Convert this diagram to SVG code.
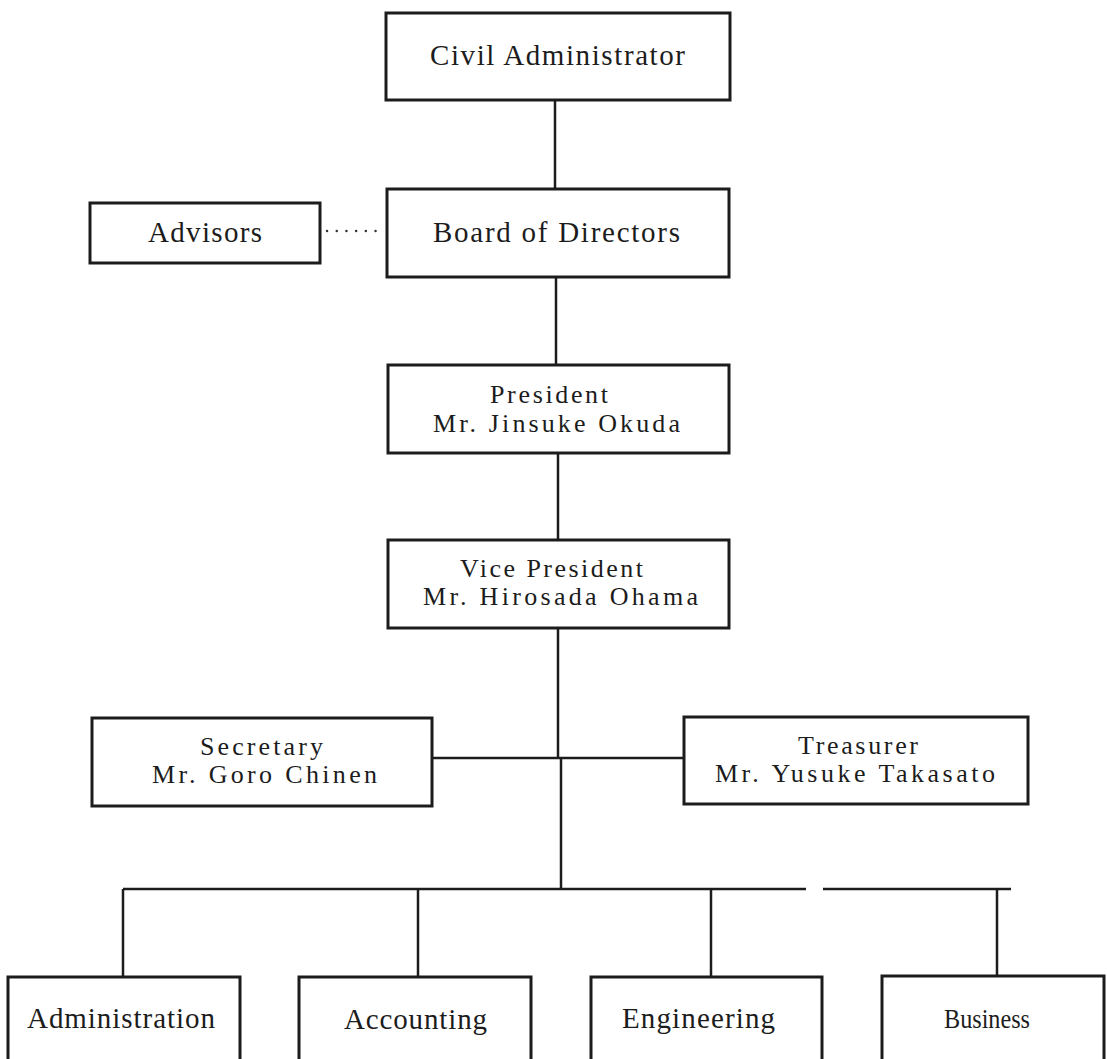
<svg xmlns="http://www.w3.org/2000/svg" width="1107" height="1059" viewBox="0 0 1107 1059">
<style>
.box{fill:#fff;stroke:#1c1c1c;stroke-width:3}
.ln{fill:none;stroke:#1c1c1c;stroke-width:2.5}
.dot{fill:none;stroke:#333;stroke-width:2.4;stroke-linecap:round;stroke-dasharray:0.1 9.6}
text{font-family:"Liberation Serif","Times New Roman",serif;fill:#1c1c1c;text-anchor:start}
.t1{font-size:29px}
.t2{font-size:26px}
</style>
<rect x="0" y="0" width="1107" height="1059" fill="#fff"/>
<g id="connectors">
<line class="ln" x1="555" y1="100" x2="555" y2="189"/>
<line class="ln" x1="556" y1="277" x2="556" y2="365"/>
<line class="ln" x1="558" y1="453" x2="558" y2="540"/>
<line class="ln" x1="558" y1="628" x2="558" y2="758"/>
<line class="ln" x1="432" y1="758" x2="684" y2="758"/>
<line class="ln" x1="561" y1="758" x2="561" y2="889"/>
<line class="ln" x1="123" y1="889" x2="806" y2="889"/>
<line class="ln" x1="823" y1="889" x2="1011" y2="889"/>
<line class="ln" x1="123" y1="889" x2="123" y2="977"/>
<line class="ln" x1="418" y1="889" x2="418" y2="977"/>
<line class="ln" x1="711" y1="889" x2="711" y2="977"/>
<line class="ln" x1="997" y1="889" x2="997" y2="977"/>
<line class="dot" x1="327" y1="231" x2="376" y2="231"/>
</g>
<g id="civil-administrator">
<rect class="box" x="386" y="13" width="344" height="87"/>
<text class="t1" x="430" y="65" textLength="255" lengthAdjust="spacing">Civil Administrator</text>
</g>
<g id="advisors">
<rect class="box" x="90" y="203" width="230" height="60"/>
<text class="t1" x="148" y="242" textLength="114" lengthAdjust="spacing">Advisors</text>
</g>
<g id="board-of-directors">
<rect class="box" x="387" y="189" width="342" height="88"/>
<text class="t1" x="433" y="242" textLength="247" lengthAdjust="spacing">Board of Directors</text>
</g>
<g id="president">
<rect class="box" x="388" y="365" width="341" height="88"/>
<text class="t2" x="490" y="403" textLength="118" lengthAdjust="spacing">President</text>
<text class="t2" x="433" y="432" textLength="247" lengthAdjust="spacing">Mr. Jinsuke Okuda</text>
</g>
<g id="vice-president">
<rect class="box" x="388" y="540" width="341" height="88"/>
<text class="t2" x="460" y="577" textLength="183" lengthAdjust="spacing">Vice President</text>
<text class="t2" x="423" y="605" textLength="275" lengthAdjust="spacing">Mr. Hirosada Ohama</text>
</g>
<g id="secretary">
<rect class="box" x="92" y="718" width="340" height="88"/>
<text class="t2" x="200" y="755" textLength="123" lengthAdjust="spacing">Secretary</text>
<text class="t2" x="152" y="783" textLength="225" lengthAdjust="spacing">Mr. Goro Chinen</text>
</g>
<g id="treasurer">
<rect class="box" x="684" y="717" width="344" height="87"/>
<text class="t2" x="798" y="754" textLength="120" lengthAdjust="spacing">Treasurer</text>
<text class="t2" x="715" y="782" textLength="280" lengthAdjust="spacing">Mr. Yusuke Takasato</text>
</g>
<g id="administration">
<rect class="box" x="8" y="977" width="232" height="100"/>
<text class="t1" x="27" y="1028" textLength="188" lengthAdjust="spacing">Administration</text>
</g>
<g id="accounting">
<rect class="box" x="299" y="977" width="232" height="100"/>
<text class="t1" x="344" y="1029" textLength="143" lengthAdjust="spacing">Accounting</text>
</g>
<g id="engineering">
<rect class="box" x="591" y="977" width="231" height="100"/>
<text class="t1" x="622" y="1028" textLength="153" lengthAdjust="spacing">Engineering</text>
</g>
<g id="business">
<rect class="box" x="882" y="976" width="222" height="100"/>
<text x="944" y="1028" style="font-size:27px" textLength="86" lengthAdjust="spacingAndGlyphs">Business</text>
</g>
</svg>
